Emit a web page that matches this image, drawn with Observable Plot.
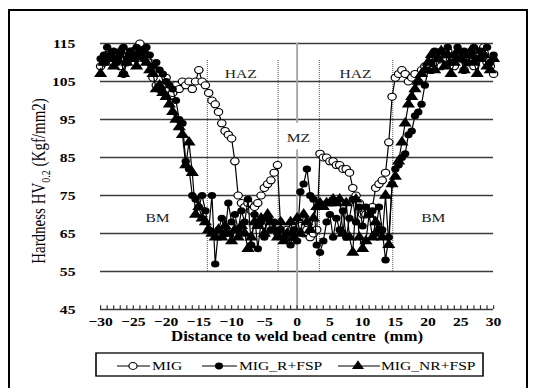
<!DOCTYPE html>
<html>
<head>
<meta charset="utf-8">
<script src="https://cdn.jsdelivr.net/npm/d3@7"></script>
<script src="https://cdn.jsdelivr.net/npm/@observablehq/plot@0.6"></script>
<style>
  html, body { margin: 0; padding: 0; background: #fff; }
  #page { position: relative; width: 536px; height: 388px; overflow: hidden; background: #fff; }
  #fig { position: absolute; left: 0; top: 0; width: 447px; height: 388px; transform-origin: 0 0; }
  #frame { position: absolute; left: 8px; top: 9px; width: 520px; height: 420px; border: 2px solid #000; box-sizing: border-box; pointer-events: none; }
  #fig svg [aria-label$="tick label"] text { font-weight: bold; }
</style>
</head>
<body>
<div id="page"><div id="fig"></div><div id="frame"></div></div>
<script>
// Microhardness profiles across the weld: distance from the bead centre (mm)
const distance = [
  -30, -29.5, -29, -28.5, -28, -27.5, -27, -26.5, -26, -25.5,
  -25, -24.5, -24, -23.5, -23, -22.5, -22, -21.5, -21, -20.5,
  -20, -19.5, -19, -18.5, -18, -17.5, -17, -16.5, -16, -15.5,
  -15, -14.5, -14, -13.5, -13, -12.5, -12, -11.5, -11, -10.5,
  -10, -9.5, -9, -8.5, -8, -7.5, -7, -6.5, -6, -5.5,
  -5, -4.5, -4, -3.5, -3, -2.5, -2, -1.5, -1, -0.5,
  0, 0.5, 1, 1.5, 2, 2.5, 3, 3.5, 4, 4.5,
  5, 5.5, 6, 6.5, 7, 7.5, 8, 8.5, 9, 9.5,
  10, 10.5, 11, 11.5, 12, 12.5, 13, 13.5, 14, 14.5,
  15, 15.5, 16, 16.5, 17, 17.5, 18, 18.5, 19, 19.5,
  20, 20.5, 21, 21.5, 22, 22.5, 23, 23.5, 24, 24.5,
  25, 25.5, 26, 26.5, 27, 27.5, 28, 28.5, 29, 29.5,
  30
];

// HV0.2 hardness, as-welded MIG joint
const mig = [
  109, 110, 112, 111, 110, 111, 109, 107, 110, 112,
  113, 112, 115, 113, 111, 110, 106, 104, 103, 104,
  106, 103, 102, 104, 103, 105, 104, 105, 103, 105,
  108, 105, 104, 102, 100, 99, 97, 94, 92, 91,
  90, 84, 75, 73, 72, 73, 71, 72, 73, 75,
  77, 78, 79, 81, 83, 66, 65, 66, 64, 67,
  66, 67, 65, 66, 64, 65, 66, 86, 85, 85,
  84, 84, 83, 83, 82, 82, 81, 77, 75, 73,
  70, 70, 71, 72, 77, 78, 79, 81, 89, 101,
  106, 107, 108, 107, 105, 106, 107, 105, 108, 109,
  109, 108, 110, 112, 109, 111, 113, 110, 109, 112,
  111, 108, 110, 112, 109, 111, 113, 114, 110, 109,
  107
];

// MIG joint, reinforcement removed, then friction stir processed
const migR = [
  111, 112, 114, 112, 113, 110, 112, 114, 111, 113,
  112, 114, 113, 111, 114, 112, 109, 110, 108, 107,
  105, 104, 103, 100, 95, 94, 84, 82, 75, 74,
  72, 75, 71, 66, 75, 57, 66, 69, 65, 73,
  68, 70, 66, 71, 68, 74, 62, 70, 61, 68,
  64, 69, 66, 68, 65, 66, 64, 65, 62, 66,
  63, 76, 78, 82, 75, 74, 62, 60, 63, 68,
  70, 64, 69, 66, 71, 64, 69, 74, 68, 72,
  67, 72, 70, 71, 65, 72, 66, 58, 64, 78,
  82, 83, 85, 86, 91, 92, 96, 97, 99, 104,
  108, 110, 113, 111, 113, 112, 114, 110, 112, 114,
  111, 113, 110, 112, 114, 111, 113, 112, 114, 110,
  112
];

// MIG joint, reinforcement kept, then friction stir processed
const migNR = [
  107, 110, 111, 112, 109, 111, 113, 107, 110, 112,
  111, 109, 112, 113, 110, 108, 107, 103, 104, 102,
  101, 99, 97, 95, 93, 91, 83, 89, 81, 70,
  72, 69, 68, 66, 65, 64, 66, 64, 67, 65,
  63, 66, 64, 67, 65, 61, 64, 68, 67, 69,
  65, 70, 68, 66, 64, 68, 63, 65, 68, 64,
  69, 65, 70, 68, 66, 69, 72, 73, 72, 73,
  73, 74, 73, 74, 65, 73, 64, 60, 74, 64,
  61, 63, 70, 64, 68, 66, 64, 75, 62, 78,
  80, 84, 89, 94, 99, 101, 103, 105, 107, 108,
  110, 112, 108, 111, 113, 109, 112, 107, 110, 113,
  111, 108, 112, 113, 110, 107, 111, 112, 109, 108,
  111
];

const seriesNames = ["MIG", "MIG_R+FSP", "MIG_NR+FSP"];
const xTicks = [-30, -25, -20, -15, -10, -5, 0, 5, 10, 15, 20, 25, 30];
const yTicks = [45, 55, 65, 75, 85, 95, 105, 115];
const gridLines = [55, 65, 75, 85, 95, 105, 115];
const minorTicks = d3.range(-30, 31, 1);

// zone boundaries (mm) and zone names
const zoneBounds = [-13.7, -2.9, 3.4, 14.6];
const zoneNames = ["BM", "HAZ", "MZ", "HAZ", "BM"];
const zoneLabelX = [-21.3, -8.6, 0.2, 8.9, 20.8];
const zoneLabelY = [69, 107, 90.3, 107, 69];

const xTitle = "Distance to weld bead centre  (mm)";

// the whole figure is drawn slightly condensed and widened back out
const s = 536 / 447;
const W = 447, H = 388;

const rows = (values) => distance.map((d, i) => ({d, v: values[i]}));
const migRows = rows(mig), migRRows = rows(migR), migNRRows = rows(migNR);
const zoneLabels = zoneNames.map((t, i) => ({t, x: zoneLabelX[i], y: zoneLabelY[i]}));
const centreLine = [{x: 0, y1: 115, y2: 94}, {x: 0, y1: 87, y2: 45}];

const serif = "'Liberation Serif', 'Times New Roman', Times, serif";

const chart = Plot.plot({
  width: W,
  height: H,
  marginTop: 43,
  marginBottom: 79,
  marginLeft: 100 / s,
  marginRight: 43 / s,
  x: {domain: [-30, 30]},
  y: {domain: [45, 115]},
  style: {fontFamily: serif, fontSize: "13px", color: "#000", background: "transparent", overflow: "visible"},
  marks: [
    Plot.ruleY(gridLines, {stroke: "#3c3c3c", strokeWidth: 1.3}),
    Plot.ruleY([45], {stroke: "#3c3c3c", strokeWidth: 1.3}),
    Plot.ruleX(centreLine, {x: "x", y1: "y1", y2: "y2", stroke: "#a8a8a8", strokeWidth: 1.6}),
    Plot.ruleX(zoneBounds, {y1: 55, y2: 110.5, stroke: "#6a6a6a", strokeWidth: 1, strokeDasharray: "1 1"}),
    Plot.ruleX(minorTicks, {y1: 45, y2: 46, stroke: "#333", strokeWidth: 1}),
    Plot.axisX({ticks: xTicks, tickSize: 0, tickPadding: 7, label: null, fontWeight: "bold"}),
    Plot.axisY({ticks: yTicks, tickSize: 0, tickPadding: 21, label: null, fontWeight: "bold"}),
    Plot.text([xTitle], {frameAnchor: "bottom", dy: 31, fontWeight: "bold", fontSize: 14}),
    Plot.text(zoneLabels, {x: "x", y: "y", text: "t", fontSize: 13, fill: "#222"}),
    // as-welded profile sits underneath the processed ones
    Plot.line(migRows, {x: "d", y: "v", stroke: "#000", strokeWidth: 1}),
    Plot.dot(migRows, {x: "d", y: "v", r: 3.5, fill: "#fff", stroke: "#000", strokeWidth: 1}),
    Plot.line(migNRRows, {x: "d", y: "v", stroke: "#000", strokeWidth: 1}),
    Plot.dot(migNRRows, {x: "d", y: "v", r: 4.1, symbol: "triangle", fill: "#000", stroke: "none"}),
    Plot.line(migRRows, {x: "d", y: "v", stroke: "#000", strokeWidth: 1}),
    Plot.dot(migRRows, {x: "d", y: "v", r: 3.5, fill: "#000", stroke: "none"})
  ]
});

const svg = d3.select(chart);

// y-axis title with subscript
const yTitle = svg.append("text")
  .attr("transform", `translate(${45 / s},181) rotate(-90)`)
  .attr("text-anchor", "middle")
  .attr("font-family", serif)
  .attr("font-size", 15)
  .attr("fill", "#000");
yTitle.append("tspan").text("Hardness HV");
yTitle.append("tspan").attr("font-size", 10).attr("dy", 4).text("0.2");
yTitle.append("tspan").attr("dy", -4).text(" (Kgf/mm2)");

// legend box below the axis
const legend = svg.append("g")
  .attr("font-family", serif)
  .attr("font-size", 13)
  .attr("text-anchor", "start");
legend.append("rect")
  .attr("x", 96 / s).attr("y", 353)
  .attr("width", (483 - 96) / s).attr("height", 23)
  .attr("fill", "#fff").attr("stroke", "#000").attr("stroke-width", 1.3);
const legendItems = [
  {name: seriesNames[0], x1: 117, x2: 150, m: 133, tx: 152, sym: d3.symbolCircle, size: 36, fill: "#fff", stroke: "#000"},
  {name: seriesNames[1], x1: 202, x2: 237, m: 219, tx: 239, sym: d3.symbolCircle, size: 36, fill: "#000", stroke: "none"},
  {name: seriesNames[2], x1: 338, x2: 380, m: 358, tx: 381, sym: d3.symbolTriangle, size: 44, fill: "#000", stroke: "none"}
];
for (const it of legendItems) {
  legend.append("line")
    .attr("x1", it.x1 / s).attr("x2", it.x2 / s)
    .attr("y1", 366).attr("y2", 366)
    .attr("stroke", "#000").attr("stroke-width", 1);
  legend.append("path")
    .attr("transform", `translate(${it.m / s},366)`)
    .attr("d", d3.symbol(it.sym, it.size)())
    .attr("fill", it.fill).attr("stroke", it.stroke).attr("stroke-width", 1);
  legend.append("text")
    .attr("x", it.tx / s).attr("y", 370.5)
    .attr("text-anchor", "start")
    .attr("fill", "#000")
    .text(it.name);
}

const fig = document.getElementById("fig");
fig.style.transform = `scaleX(${s})`;
fig.appendChild(chart);
</script>
</body>
</html>
